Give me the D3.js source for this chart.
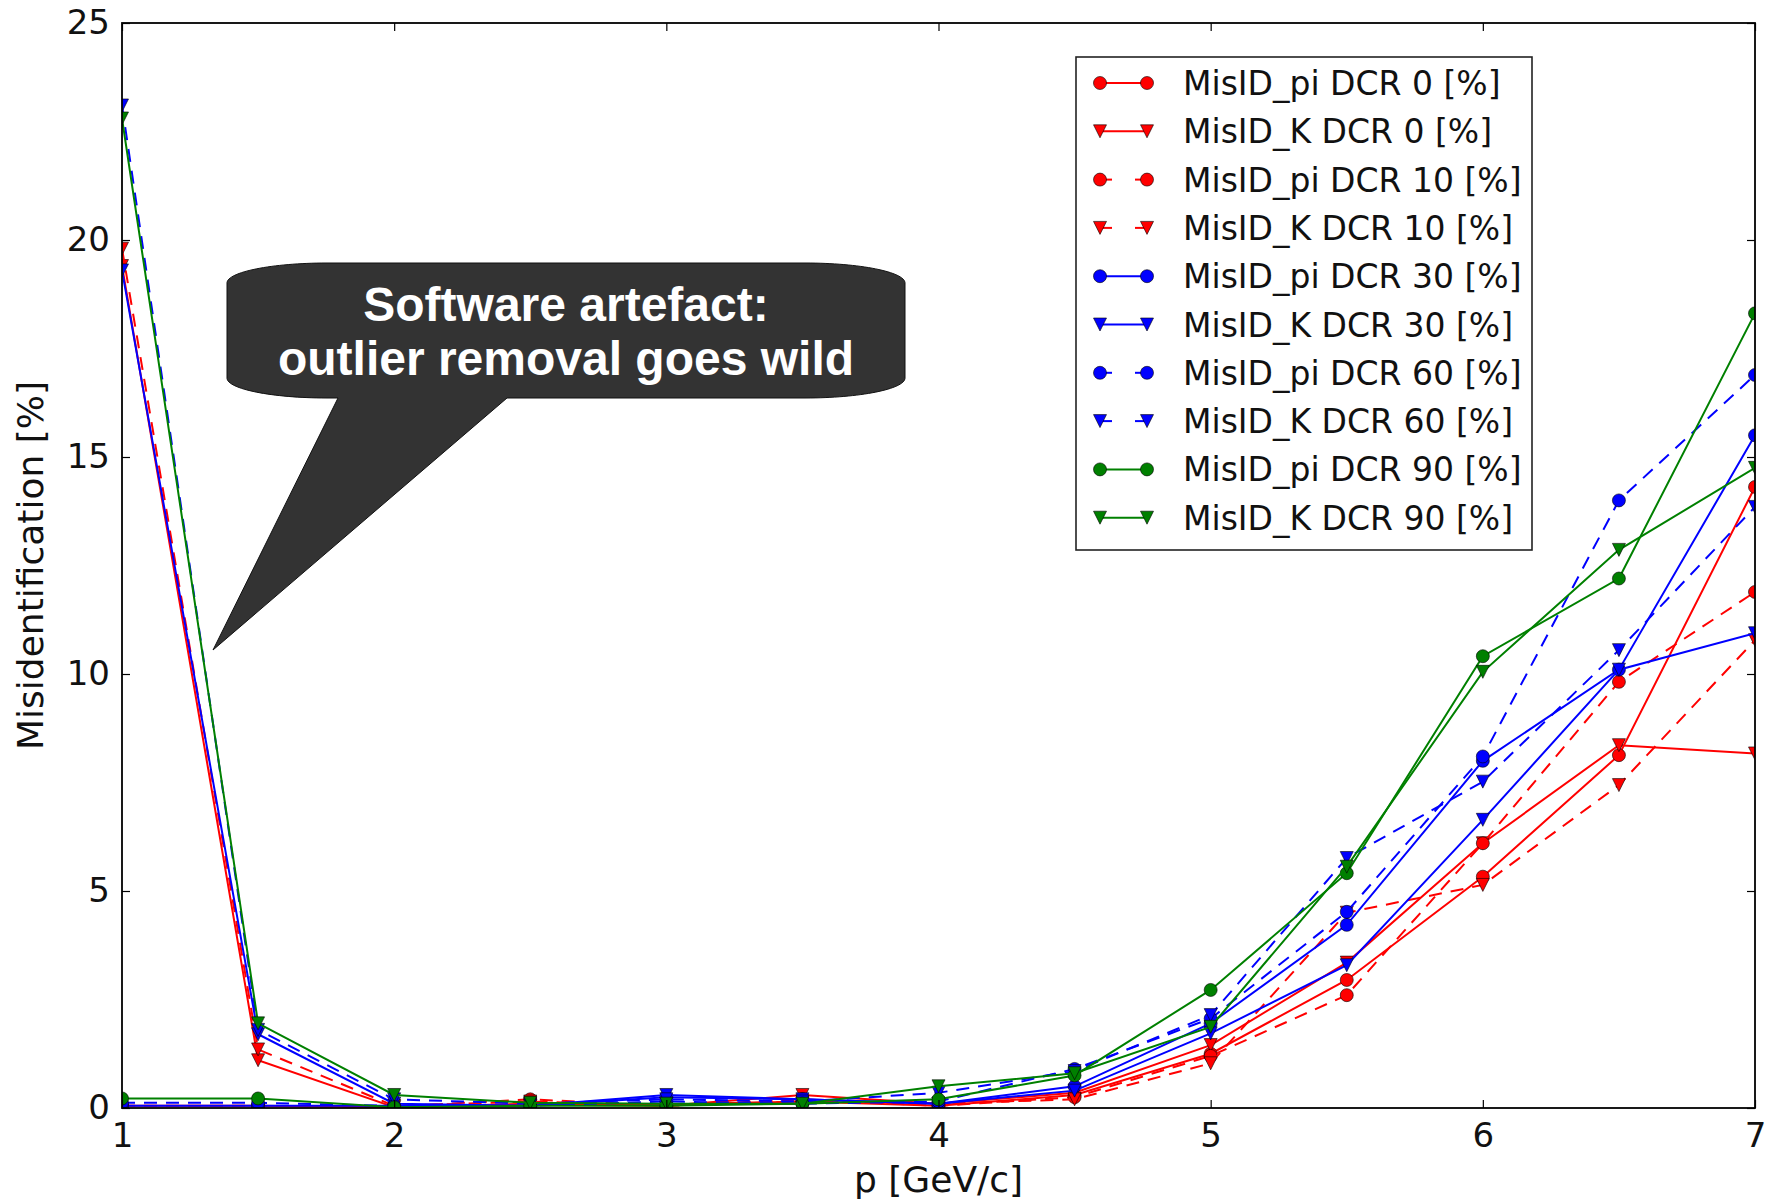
<!DOCTYPE html>
<html>
<head>
<meta charset="utf-8">
<script src="https://cdn.jsdelivr.net/npm/d3@7"></script>
<style>
  html, body { margin: 0; padding: 0; background: #fff; }
  svg { display: block; }
</style>
</head>
<body>
<svg id="chart" width="1773" height="1204"></svg>
<script>
// Momentum bins [GeV/c]
const momentum = [1, 1.5, 2, 2.5, 3, 3.5, 4, 4.5, 5, 5.5, 6, 6.5, 7];

// Misidentification rates [%] per dark-count-rate setting
const misidPiDcr0  = [0.05, 0.05, 0.02, 0.10, 0.08, 0.15, 0.05, 0.30, 1.25, 2.95, 5.33, 8.13, 14.31];
const misidKDcr0   = [19.4, 1.10, 0.02, 0.08, 0.05, 0.30, 0.10, 0.35, 1.45, 3.35, 6.10, 8.36, 8.17];
const misidPiDcr10 = [0.05, 0.05, 0.03, 0.20, 0.05, 0.20, 0.05, 0.25, 1.20, 2.60, 6.10, 9.82, 11.89];
const misidKDcr10  = [19.8, 1.35, 0.05, 0.15, 0.05, 0.15, 0.10, 0.20, 1.03, 4.50, 5.14, 7.44, 10.78];
const misidPiDcr30 = [0.05, 0.05, 0.05, 0.05, 0.25, 0.20, 0.10, 0.50, 1.95, 4.22, 8.00, 10.10, 15.50];
const misidKDcr30  = [19.3, 1.70, 0.10, 0.05, 0.30, 0.20, 0.10, 0.40, 1.72, 3.29, 6.64, 10.10, 10.94];
const misidPiDcr60 = [0.12, 0.12, 0.05, 0.05, 0.15, 0.10, 0.15, 0.90, 2.06, 4.52, 8.10, 14.00, 16.89];
const misidKDcr60  = [23.1, 1.80, 0.20, 0.10, 0.20, 0.15, 0.35, 0.85, 2.14, 5.76, 7.52, 10.55, 13.85];
const misidPiDcr90 = [0.22, 0.22, 0.02, 0.05, 0.05, 0.10, 0.20, 0.75, 2.72, 5.41, 10.41, 12.20, 18.31];
const misidKDcr90  = [22.8, 1.95, 0.30, 0.12, 0.10, 0.10, 0.50, 0.80, 1.87, 5.56, 10.05, 12.86, 14.75];

const seriesLabels = [
  "MisID_pi DCR 0 [%]", "MisID_K DCR 0 [%]",
  "MisID_pi DCR 10 [%]", "MisID_K DCR 10 [%]",
  "MisID_pi DCR 30 [%]", "MisID_K DCR 30 [%]",
  "MisID_pi DCR 60 [%]", "MisID_K DCR 60 [%]",
  "MisID_pi DCR 90 [%]", "MisID_K DCR 90 [%]"
];
const seriesValues = [
  misidPiDcr0, misidKDcr0, misidPiDcr10, misidKDcr10,
  misidPiDcr30, misidKDcr30, misidPiDcr60, misidKDcr60,
  misidPiDcr90, misidKDcr90
];

const xTicks = [1, 2, 3, 4, 5, 6, 7];
const yTicks = [0, 5, 10, 15, 20, 25];

const calloutLines = ["Software artefact:", "outlier removal goes wild"];

// ---- styling per series ----
const colors  = ["#ff0000", "#ff0000", "#ff0000", "#ff0000", "#0000ff", "#0000ff", "#0000ff", "#0000ff", "#008000", "#008000"];
const dashed  = [false, false, true, true, false, false, true, true, false, false];
const markers = ["circle", "tri", "circle", "tri", "circle", "tri", "circle", "tri", "circle", "tri"];

const series = seriesLabels.map((label, i) => ({
  label, values: seriesValues[i], color: colors[i], dashed: dashed[i], marker: markers[i]
}));

const svg = d3.select("#chart");
const plotL = 122, plotR = 1755, plotT = 23, plotB = 1108;

const x = d3.scaleLinear().domain([1, 7]).range([plotL, plotR]);
const y = d3.scaleLinear().domain([0, 25]).range([plotB, plotT]);

const axisFont = "'DejaVu Sans', sans-serif";

svg.append("rect").attr("width", 1773).attr("height", 1204).attr("fill", "#fff");

svg.append("defs").append("clipPath").attr("id", "plotClip")
  .append("rect").attr("x", plotL).attr("y", plotT)
  .attr("width", plotR - plotL).attr("height", plotB - plotT);

// ---- data ----
const R = 6.5;
const triPath = `M${-R},${-R}L${R},${-R}L0,${R}Z`;

function drawMarker(g, kind, color) {
  if (kind === "circle") {
    return g.append("circle").attr("r", R).attr("fill", color)
      .attr("stroke", "#000").attr("stroke-width", 0.6);
  }
  return g.append("path").attr("d", triPath).attr("fill", color)
    .attr("stroke", "#000").attr("stroke-width", 0.6);
}

const plot = svg.append("g").attr("clip-path", "url(#plotClip)");
const line = d3.line().x((d, i) => x(momentum[i])).y(d => y(d));

series.forEach(s => {
  const g = plot.append("g");
  g.append("path")
    .attr("d", line(s.values))
    .attr("fill", "none")
    .attr("stroke", s.color)
    .attr("stroke-width", 2)
    .attr("stroke-dasharray", s.dashed ? "13,9" : null);
  s.values.forEach((v, i) => {
    const m = g.append("g").attr("transform", `translate(${x(momentum[i])},${y(v)})`);
    drawMarker(m, s.marker, s.color);
  });
});

// ---- axes (ticks point inward, on all four sides) ----
const tickLen = 8;
const xAxisB = svg.append("g").attr("transform", `translate(0,${plotB})`)
  .call(d3.axisBottom(x).tickValues(xTicks).tickFormat(d3.format("d"))
    .tickSizeInner(-tickLen).tickSizeOuter(0).tickPadding(15));
const xAxisT = svg.append("g").attr("transform", `translate(0,${plotT})`)
  .call(d3.axisTop(x).tickValues(xTicks).tickFormat("")
    .tickSizeInner(-tickLen).tickSizeOuter(0));
const yAxisL = svg.append("g").attr("transform", `translate(${plotL},0)`)
  .call(d3.axisLeft(y).tickValues(yTicks).tickFormat(d3.format("d"))
    .tickSizeInner(-tickLen).tickSizeOuter(0).tickPadding(12));
const yAxisR = svg.append("g").attr("transform", `translate(${plotR},0)`)
  .call(d3.axisRight(y).tickValues(yTicks).tickFormat("")
    .tickSizeInner(-tickLen).tickSizeOuter(0));

[xAxisB, xAxisT, yAxisL, yAxisR].forEach(a => {
  a.select(".domain").remove();
  a.selectAll(".tick line").attr("stroke", "#000").attr("stroke-width", 1.2);
  a.selectAll(".tick text").attr("fill", "#111")
    .style("font-family", axisFont).style("font-size", "34px");
});

// frame
svg.append("rect").attr("x", plotL).attr("y", plotT)
  .attr("width", plotR - plotL).attr("height", plotB - plotT)
  .attr("fill", "none").attr("stroke", "#000").attr("stroke-width", 1.8);

// axis titles
svg.append("text").attr("x", (plotL + plotR) / 2).attr("y", 1192)
  .attr("text-anchor", "middle").attr("fill", "#111")
  .style("font-family", axisFont).style("font-size", "36px")
  .text("p [GeV/c]");
svg.append("text").attr("transform", `translate(43,${(plotT + plotB) / 2}) rotate(-90)`)
  .attr("text-anchor", "middle").attr("fill", "#111")
  .style("font-family", axisFont).style("font-size", "36px")
  .text("Misidentification [%]");

// ---- legend ----
const legend = svg.append("g");
legend.append("rect").attr("x", 1076).attr("y", 57).attr("width", 456).attr("height", 493)
  .attr("fill", "#fff").attr("stroke", "#222").attr("stroke-width", 1.6);

const lx0 = 1100, lx1 = 1147, rowY0 = 83, rowStep = 48.3;
series.forEach((s, i) => {
  const cy = rowY0 + i * rowStep;
  const g = legend.append("g");
  if (s.dashed) {
    g.append("line").attr("x1", lx0).attr("x2", lx0 + 12).attr("y1", cy).attr("y2", cy)
      .attr("stroke", s.color).attr("stroke-width", 2);
    g.append("line").attr("x1", lx1 - 12).attr("x2", lx1).attr("y1", cy).attr("y2", cy)
      .attr("stroke", s.color).attr("stroke-width", 2);
  } else {
    g.append("line").attr("x1", lx0).attr("x2", lx1).attr("y1", cy).attr("y2", cy)
      .attr("stroke", s.color).attr("stroke-width", 2);
  }
  [lx0, lx1].forEach(mx => {
    const m = g.append("g").attr("transform", `translate(${mx},${cy})`);
    drawMarker(m, s.marker, s.color);
  });
  g.append("text").attr("x", 1183).attr("y", cy + 12)
    .attr("fill", "#111")
    .style("font-family", axisFont).style("font-size", "33px")
    .text(s.label);
});

// ---- callout bubble ----
const bx0 = 227, bx1 = 905, by0 = 263, by1 = 398, rx = 100, ry = 20;
const tailA = 338, tailB = 507, tipX = 213, tipY = 650;
const bubble = d3.path();
bubble.moveTo(bx0 + rx, by0);
bubble.lineTo(bx1 - rx, by0);
bubble.bezierCurveTo(bx1 - rx * 0.45, by0, bx1, by0 + ry * 0.45, bx1, by0 + ry);
bubble.lineTo(bx1, by1 - ry);
bubble.bezierCurveTo(bx1, by1 - ry * 0.45, bx1 - rx * 0.45, by1, bx1 - rx, by1);
bubble.lineTo(tailB, by1);
bubble.lineTo(tipX, tipY);
bubble.lineTo(tailA, by1);
bubble.lineTo(bx0 + rx, by1);
bubble.bezierCurveTo(bx0 + rx * 0.45, by1, bx0, by1 - ry * 0.45, bx0, by1 - ry);
bubble.lineTo(bx0, by0 + ry);
bubble.bezierCurveTo(bx0, by0 + ry * 0.45, bx0 + rx * 0.45, by0, bx0 + rx, by0);
bubble.closePath();

svg.append("path").attr("d", bubble.toString())
  .attr("fill", "#333333").attr("stroke", "#111").attr("stroke-width", 1);

svg.append("g").selectAll("text").data(calloutLines).join("text")
  .attr("x", (bx0 + bx1) / 2)
  .attr("y", (d, i) => 321 + i * 54)
  .attr("text-anchor", "middle")
  .attr("fill", "#fff")
  .style("font-family", "'Liberation Sans', Arial, sans-serif")
  .style("font-weight", "bold")
  .style("font-size", "48px")
  .text(d => d);
</script>
</body>
</html>
